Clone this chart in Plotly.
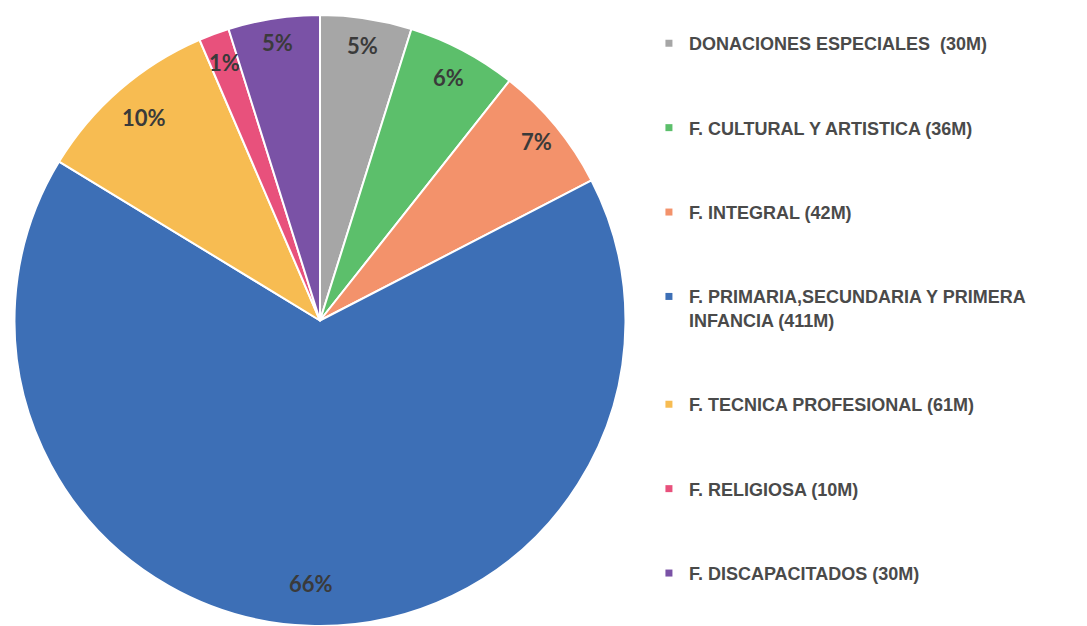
import math
import plotly.graph_objects as go

categories = [
    "DONACIONES ESPECIALES  (30M)",
    "F. CULTURAL Y ARTISTICA (36M)",
    "F. INTEGRAL (42M)",
    "F. PRIMARIA,SECUNDARIA Y PRIMERA<br>INFANCIA (411M)",
    "F. TECNICA PROFESIONAL (61M)",
    "F. RELIGIOSA (10M)",
    "F. DISCAPACITADOS (30M)",
]
values = [30, 36, 42, 411, 61, 10, 30]
pct_labels = ["5%", "6%", "7%", "66%", "10%", "1%", "5%"]
colors = ["#A6A6A6", "#5CBF6B", "#F3926B", "#3D6FB6", "#F7BC52", "#E8517C", "#7A52A6"]
label_radius = [0.91, 0.9, 0.92, 0.86, 0.88, 0.9, 0.92]

W, H = 1087, 626
# pie geometry (pixels)
PX0, PX1 = 13, 627
PY_TOP = 15
pie_r = min(PX1 - PX0, H - PY_TOP) / 2
pie_cx = (PX0 + PX1) / 2
pie_cy = (PY_TOP + H) / 2

fig = go.Figure()
fig.add_trace(go.Pie(
    labels=categories,
    values=values,
    textinfo="none",
    sort=False,
    direction="clockwise",
    marker=dict(colors=colors, line=dict(color="white", width=2)),
    showlegend=False,
    domain=dict(x=[PX0 / W, PX1 / W], y=[0, 1 - PY_TOP / H]),
    hoverinfo="label+value",
))

# percentage labels placed at the middle angle of each slice
total = sum(values)
cum = 0
for v, txt, f in zip(values, pct_labels, label_radius):
    theta = 2 * math.pi * (cum + v / 2) / total
    cum += v
    px = pie_cx + f * pie_r * math.sin(theta)
    py = pie_cy - f * pie_r * math.cos(theta)
    fig.add_annotation(
        x=px / W, y=1 - py / H, xref="paper", yref="paper",
        xanchor="center", yanchor="middle",
        text=txt, showarrow=False,
        font=dict(family="Lato", size=22, color="#3a3a3a", weight="bold"),
    )

# legend entries (one group per category so spacing can be controlled)
for cat, col in zip(categories, colors):
    fig.add_trace(go.Scatter(
        x=[None], y=[None], mode="markers", name=cat,
        legendgroup=cat,
        marker=dict(symbol="square", size=7, color=col),
    ))

fig.update_layout(
    width=W, height=H,
    margin=dict(l=0, r=0, t=0, b=0),
    paper_bgcolor="white", plot_bgcolor="white",
    xaxis=dict(visible=False), yaxis=dict(visible=False),
    legend=dict(
        x=0.597, y=0.960, xanchor="left", yanchor="top",
        font=dict(family="Liberation Sans", size=18, color="#4a4a4a", weight="bold"),
        tracegroupgap=58,
        itemwidth=30,
        valign="top",
        bgcolor="rgba(0,0,0,0)",
    ),
)

fig.write_html(
    "out.html",
    config={"displayModeBar": False},
    post_script="document.body.style.margin='0px';",
)
